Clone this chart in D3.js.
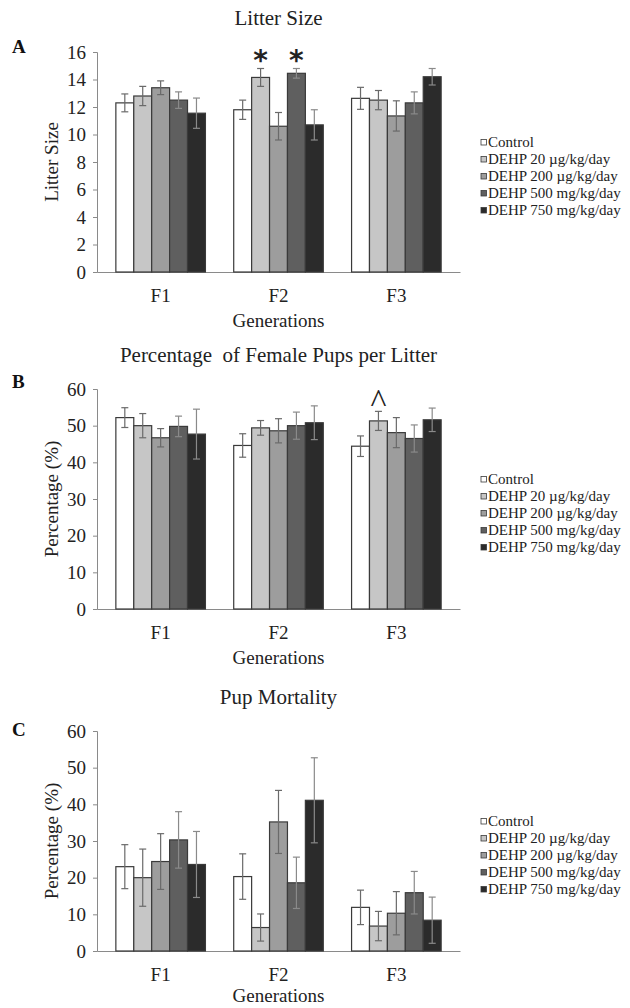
<!DOCTYPE html>
<html>
<head>
<meta charset="utf-8">
<script src="https://cdn.jsdelivr.net/npm/d3@7"></script>
<style>
  body { margin: 0; background: #fff; }
  svg { display: block; font-family: "Liberation Serif", "Times New Roman", serif; }
</style>
</head>
<body>
<div id="chart"></div>
<script>
let width = 630;
let height = 1008;

// 数据
const generations = ["F1", "F2", "F3"];
const groups = ["Control", "DEHP 20 µg/kg/day", "DEHP 200 µg/kg/day", "DEHP 500 mg/kg/day", "DEHP 750 mg/kg/day"];
const fills = ["#ffffff", "#c6c6c6", "#9d9d9d", "#5f5f5f", "#2b2b2b"];

// Litter size, rows = generations, cols = groups
const litterMean = [[12.3, 12.8, 13.4, 12.5, 11.55], [11.8, 14.15, 10.6, 14.45, 10.7], [12.63, 12.5, 11.35, 12.3, 14.2]];
const litterErr = [[0.65, 0.7, 0.5, 0.6, 1.1], [0.7, 0.65, 1.0, 0.35, 1.1], [0.8, 0.7, 1.1, 0.8, 0.6]];
const litterTicks = [0, 2, 4, 6, 8, 10, 12, 14, 16];
const litterMarks = [{gen: "F2", group: 1, text: "*"}, {gen: "F2", group: 3, text: "*"}];

// Percentage of female pups
const femaleMean = [[52.2, 50.0, 46.7, 49.8, 47.7], [44.6, 49.4, 48.6, 50.0, 50.8], [44.4, 51.3, 48.1, 46.5, 51.6]];
const femaleErr = [[2.7, 3.3, 2.5, 2.8, 6.8], [3.2, 2.0, 3.3, 3.7, 4.6], [2.8, 2.6, 4.1, 3.7, 3.2]];
const femaleTicks = [0, 10, 20, 30, 40, 50, 60];
const femaleMarks = [{gen: "F3", group: 1, text: "^"}];

// Pup mortality
const mortMean = [[23.0, 20.0, 24.4, 30.3, 23.6], [20.3, 6.4, 35.2, 18.6, 41.1], [11.9, 6.8, 10.3, 15.9, 8.4]];
const mortErr = [[6.0, 7.8, 7.6, 7.7, 9.0], [6.2, 3.7, 8.6, 7.0, 11.6], [4.7, 4.0, 5.9, 5.8, 6.3]];
const mortTicks = [0, 10, 20, 30, 40, 50, 60];

let panels = [
    {letter: "A", title: "Litter Size", yLabel: "Litter Size", top: 52, letterDy: 1, genDy: 55, mean: litterMean, err: litterErr, ticks: litterTicks, marks: litterMarks},
    {letter: "B", title: "Percentage  of Female Pups per Litter", yLabel: "Percentage (%)", top: 389, letterDy: -1, genDy: 55, mean: femaleMean, err: femaleErr, ticks: femaleTicks, marks: femaleMarks},
    {letter: "C", title: "Pup Mortality", yLabel: "Percentage (%)", top: 731, letterDy: 5, genDy: 51, mean: mortMean, err: mortErr, ticks: mortTicks, marks: []}
];

let plotLeft = 97;
let plotRight = 460;
let plotHeight = 220;
let axisColor = "#8a8a8a";

let svg = d3.select("#chart").append("svg")
    .attr("width", width)
    .attr("height", height);

let x0 = d3.scaleBand()
    .domain(generations)
    .range([plotLeft, plotRight])
    .paddingInner(0.24)
    .paddingOuter(0.16);

let x1 = d3.scaleBand()
    .domain(d3.range(groups.length))
    .range([0, x0.bandwidth()]);

function drawPanel(p) {
    let g = svg.append("g");
    let bottom = p.top + plotHeight;

    let y = d3.scaleLinear()
        .domain([0, d3.max(p.ticks)])
        .range([bottom, p.top]);

    // 标题
    g.append("text")
        .attr("x", (plotLeft + plotRight) / 2)
        .attr("y", p.top - 27)
        .attr("text-anchor", "middle")
        .style("font-size", "21px")
        .style("white-space", "pre")
        .attr("fill", "#222")
        .text(p.title);

    g.append("text")
        .attr("x", 12)
        .attr("y", p.top + p.letterDy)
        .style("font-size", "19px")
        .style("font-weight", "bold")
        .attr("fill", "#111")
        .text(p.letter);

    // 坐标轴
    let yAxis = g.append("g")
        .attr("transform", "translate(" + plotLeft + ",0)")
        .call(d3.axisLeft(y).tickValues(p.ticks).tickSizeOuter(0).tickSize(4).tickPadding(7));
    yAxis.selectAll("text").style("font-size", "19px").attr("fill", "#222").style("font-family", "Liberation Serif");
    yAxis.selectAll("line, path").attr("stroke", axisColor);

    let xAxis = g.append("g")
        .attr("transform", "translate(0," + bottom + ")")
        .call(d3.axisBottom(x0).tickSize(0).tickSizeOuter(0).tickPadding(17));
    xAxis.selectAll("text").style("font-size", "19px").attr("fill", "#222").style("font-family", "Liberation Serif");
    xAxis.selectAll("path").attr("stroke", axisColor);

    g.append("text")
        .attr("x", (plotLeft + plotRight) / 2)
        .attr("y", bottom + p.genDy)
        .attr("text-anchor", "middle")
        .style("font-size", "19px")
        .attr("fill", "#222")
        .text("Generations");

    g.append("text")
        .attr("transform", "rotate(-90)")
        .attr("x", -(p.top + plotHeight / 2))
        .attr("y", 58)
        .attr("text-anchor", "middle")
        .style("font-size", "19px")
        .attr("fill", "#222")
        .text(p.yLabel);

    // 柱子
    generations.forEach(function(gen, gi) {
        let grp = g.append("g").attr("transform", "translate(" + x0(gen) + ",0)");
        groups.forEach(function(name, k) {
            let v = p.mean[gi][k];
            let e = p.err[gi][k];
            grp.append("rect")
                .attr("x", x1(k))
                .attr("y", y(v))
                .attr("width", x1.bandwidth())
                .attr("height", bottom - y(v))
                .attr("fill", fills[k])
                .attr("stroke", "#3a3a3a")
                .attr("stroke-width", 1.2);

            let cx = x1(k) + x1.bandwidth() / 2;
            let errColor = k >= 3 ? "#8a8a8a" : "#6a6a6a";
            grp.append("line")
                .attr("x1", cx).attr("x2", cx)
                .attr("y1", y(v - e)).attr("y2", y(v + e))
                .attr("stroke", errColor).attr("stroke-width", 1.2);
            [v - e, v + e].forEach(function(val) {
                grp.append("line")
                    .attr("x1", cx - 3.5).attr("x2", cx + 3.5)
                    .attr("y1", y(val)).attr("y2", y(val))
                    .attr("stroke", errColor).attr("stroke-width", 1.2);
            });
        });
    });

    // 显著性标记
    p.marks.forEach(function(m) {
        let gi = generations.indexOf(m.gen);
        let cx = x0(m.gen) + x1(m.group) + x1.bandwidth() / 2;
        let top = y(p.mean[gi][m.group] + p.err[gi][m.group]);
        let t = g.append("text")
            .attr("x", cx)
            .attr("text-anchor", "middle")
            .attr("fill", "#222")
            .text(m.text);
        if (m.text === "*") {
            t.attr("y", top + 1)
             .style("font-family", "DejaVu Sans")
             .style("font-weight", "bold")
             .style("font-size", "28px");
        } else {
            t.attr("y", top + 1)
             .style("font-size", "34px");
        }
    });

    // 图例
    let legend = g.selectAll(".legend")
        .data(groups)
        .enter().append("g")
        .attr("class", "legend")
        .attr("transform", function(d, i) { return "translate(481," + (p.top + 90 + i * 17) + ")"; });

    legend.append("rect")
        .attr("x", 0)
        .attr("y", -2.5)
        .attr("width", 5.5)
        .attr("height", 5.5)
        .attr("fill", function(d, i) { return fills[i]; })
        .attr("stroke", "#3a3a3a")
        .attr("stroke-width", 0.8);

    legend.append("text")
        .attr("x", 7)
        .attr("y", 0)
        .attr("dy", "0.35em")
        .style("font-size", "15px")
        .attr("fill", "#222")
        .text(function(d) { return d; });
}

panels.forEach(drawPanel);
</script>
</body>
</html>
